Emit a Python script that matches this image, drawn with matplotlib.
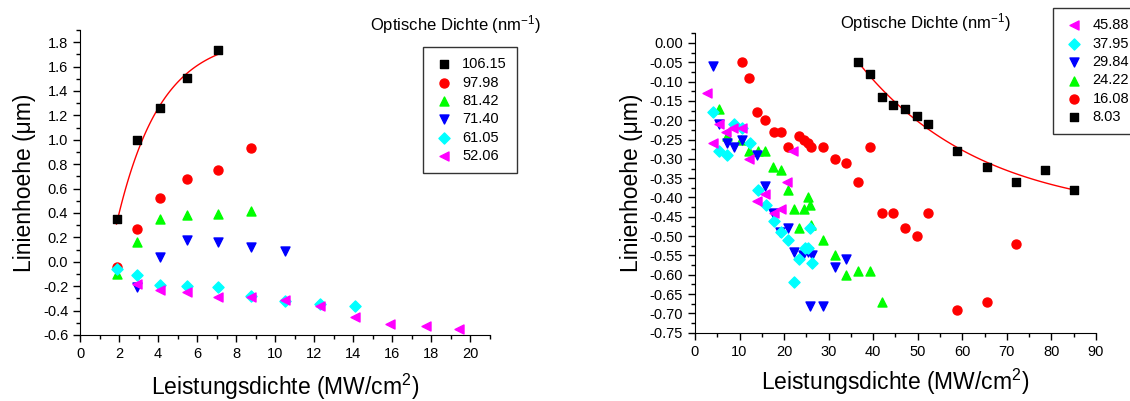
import numpy as np
import matplotlib
matplotlib.use("Agg")
import matplotlib.pyplot as plt
from matplotlib.ticker import MultipleLocator, FormatStrFormatter

plt.rcParams["font.family"] = ["Liberation Sans", "DejaVu Sans"]
plt.rcParams["mathtext.default"] = "regular"

# ---- linkes Diagramm: Optische Dichte 106.15 ... 52.06 ----
x_106 = [1.87, 2.9, 4.1, 5.5, 7.05]
y_106 = [0.35, 1.00, 1.26, 1.51, 1.74]
x_98 = [1.87, 2.9, 4.1, 5.5, 7.05, 8.75]
y_98 = [-0.04, 0.27, 0.52, 0.68, 0.75, 0.93]
x_81 = [1.87, 2.9, 4.1, 5.5, 7.05, 8.75]
y_81 = [-0.10, 0.16, 0.35, 0.38, 0.39, 0.42]
x_71 = [2.9, 4.1, 5.5, 7.05, 8.75, 10.5]
y_71 = [-0.21, 0.04, 0.18, 0.16, 0.12, 0.09]
x_61 = [1.87, 2.9, 4.1, 5.5, 7.05, 8.75, 10.5, 12.3, 14.1]
y_61 = [-0.06, -0.11, -0.19, -0.20, -0.21, -0.28, -0.32, -0.35, -0.36]
x_52 = [2.9, 4.1, 5.5, 7.05, 8.75, 10.5, 12.3, 14.1, 15.9, 17.7, 19.4]
y_52 = [-0.18, -0.23, -0.25, -0.29, -0.29, -0.31, -0.36, -0.45, -0.51, -0.53, -0.55]
# Fit y = a - b*exp(-x/t)
fit_left = (1.85, 1.52 * np.exp(1.9 / 2.23), 2.23)

# ---- rechtes Diagramm: Optische Dichte 45.88 ... 8.03 ----
x_46 = [2.8, 4.0, 5.5, 6.9, 8.6, 10.5, 12.2, 13.9, 15.7, 17.65, 19.3, 20.7, 22.1]
y_46 = [-0.13, -0.26, -0.21, -0.23, -0.22, -0.22, -0.30, -0.41, -0.39, -0.44, -0.43, -0.36, -0.28]
x_38 = [4.1, 5.5, 7.1, 8.75, 10.5, 12.3, 14.06, 15.9, 17.65, 19.3, 20.9, 22.2, 23.4,
        24.7, 25.3, 25.9, 26.2]
y_38 = [-0.18, -0.28, -0.29, -0.21, -0.22, -0.26, -0.38, -0.42, -0.46, -0.49, -0.51, -0.62, -0.56,
        -0.53, -0.53, -0.48, -0.57]
x_30 = [4.1, 5.5, 7.1, 8.75, 10.5, 14.0, 15.8, 17.6, 19.1, 20.8, 22.2, 24.3, 25.4,
        26.2, 25.9, 28.8, 31.4, 34.0]
y_30 = [-0.06, -0.21, -0.26, -0.27, -0.25, -0.29, -0.37, -0.44, -0.49, -0.48, -0.54, -0.55, -0.54,
        -0.55, -0.68, -0.68, -0.58, -0.56]
x_24 = [5.5, 7.1, 10.4, 12.2, 14.1, 15.8, 17.6, 19.3, 20.8, 22.2, 23.4, 24.5, 25.3,
        25.9, 26.1, 28.8, 31.4, 34.0, 36.65, 39.3, 41.9]
y_24 = [-0.17, -0.24, -0.25, -0.28, -0.28, -0.28, -0.32, -0.33, -0.38, -0.43, -0.48, -0.43, -0.40,
        -0.42, -0.47, -0.51, -0.55, -0.60, -0.59, -0.59, -0.67]
x_16 = [10.5, 12.2, 14.0, 15.8, 17.65, 19.3, 20.9, 23.4, 24.5, 25.3, 26.0, 28.7, 31.4,
        34.0, 36.65, 39.3, 41.9, 44.5, 47.1, 49.75, 52.4, 58.9, 65.5, 72.0]
y_16 = [-0.05, -0.09, -0.18, -0.20, -0.23, -0.23, -0.27, -0.24, -0.25, -0.26, -0.27, -0.27, -0.30,
        -0.31, -0.36, -0.27, -0.44, -0.44, -0.48, -0.50, -0.44, -0.69, -0.67, -0.52]
x_8 = [36.65, 39.3, 41.9, 44.5, 47.1, 49.75, 52.4, 58.9, 65.5, 72.0, 78.5, 85.1]
y_8 = [-0.05, -0.08, -0.14, -0.16, -0.17, -0.19, -0.21, -0.28, -0.32, -0.36, -0.33, -0.38]
# Fit y = y0 + A*exp(-x/t)
fit_right = (-0.45, 0.40 * np.exp(36.65 / 27.7), 27.7)

ms = 42
fig = plt.figure(figsize=(11.3, 4.01), dpi=100)


def style_axes(ax):
    ax.spines["top"].set_visible(False)
    ax.spines["right"].set_visible(False)
    ax.tick_params(which="both", direction="out", labelsize=10.5, width=1)
    ax.tick_params(which="major", length=5)
    ax.tick_params(which="minor", length=3)


legend_opts = dict(loc="upper left", bbox_transform=fig.transFigure, borderaxespad=0,
                   fontsize=10.5, frameon=True, fancybox=False, edgecolor="black",
                   labelspacing=0.3, handletextpad=0.5, borderpad=0.7, scatterpoints=1,
                   handlelength=1.5)

# linkes Diagramm
ax1 = fig.add_axes([0.0708, 0.1646, 0.3628, 0.7606])
xf = np.linspace(min(x_106), max(x_106), 100)
ax1.plot(xf, fit_left[0] - fit_left[1] * np.exp(-xf / fit_left[2]), color="red", lw=1)
ax1.scatter(x_106, y_106, marker="s", s=36, color="black", label="106.15", zorder=3)
ax1.scatter(x_98, y_98, marker="o", s=ms, color="red", label="97.98", zorder=3)
ax1.scatter(x_81, y_81, marker="^", s=ms, color="#00FF00", label="81.42", zorder=3)
ax1.scatter(x_71, y_71, marker="v", s=ms, color="blue", label="71.40", zorder=3)
ax1.scatter(x_61, y_61, marker="D", s=32, color="cyan", label="61.05", zorder=3)
ax1.scatter(x_52, y_52, marker="<", s=ms, color="magenta", label="52.06", zorder=3)
ax1.set_xlim(0, 21)
ax1.set_ylim(-0.6, 1.9)
ax1.xaxis.set_major_locator(MultipleLocator(2))
ax1.xaxis.set_minor_locator(MultipleLocator(1))
ax1.yaxis.set_major_locator(MultipleLocator(0.2))
ax1.yaxis.set_minor_locator(MultipleLocator(0.1))
ax1.yaxis.set_major_formatter(FormatStrFormatter("%.1f"))
style_axes(ax1)
ax1.set_xlabel("Leistungsdichte (MW/cm$^2$)", fontsize=16.5, labelpad=8)
ax1.set_ylabel("Linienhoehe (μm)", fontsize=16.5, labelpad=5)
ax1.legend(bbox_to_anchor=(0.374, 0.883), **legend_opts).get_frame().set_linewidth(1)
fig.text(0.327, 0.94, "Optische Dichte (nm$^{-1}$)", fontsize=12, va="center")

# rechtes Diagramm
ax2 = fig.add_axes([0.615, 0.1703, 0.3549, 0.7467])
xf = np.linspace(min(x_8), max(x_8), 100)
ax2.plot(xf, fit_right[0] + fit_right[1] * np.exp(-xf / fit_right[2]), color="red", lw=1)
ax2.scatter(x_8, y_8, marker="s", s=36, color="black", label="8.03", zorder=3)
ax2.scatter(x_16, y_16, marker="o", s=ms, color="red", label="16.08", zorder=3)
ax2.scatter(x_24, y_24, marker="^", s=ms, color="#00FF00", label="24.22", zorder=3)
ax2.scatter(x_30, y_30, marker="v", s=ms, color="blue", label="29.84", zorder=3)
ax2.scatter(x_38, y_38, marker="D", s=32, color="cyan", label="37.95", zorder=3)
ax2.scatter(x_46, y_46, marker="<", s=ms, color="magenta", label="45.88", zorder=3)
ax2.set_xlim(0, 90)
ax2.set_ylim(-0.75, 0.025)
ax2.xaxis.set_major_locator(MultipleLocator(10))
ax2.xaxis.set_minor_locator(MultipleLocator(5))
ax2.yaxis.set_major_locator(MultipleLocator(0.05))
ax2.yaxis.set_minor_locator(MultipleLocator(0.025))
ax2.yaxis.set_major_formatter(FormatStrFormatter("%.2f"))
style_axes(ax2)
ax2.set_xlabel("Leistungsdichte (MW/cm$^2$)", fontsize=16.5, labelpad=6)
ax2.set_ylabel("Linienhoehe (μm)", fontsize=16.5, labelpad=5)
h, l = ax2.get_legend_handles_labels()
ax2.legend(h[::-1], l[::-1], bbox_to_anchor=(0.932, 0.98),
           **legend_opts).get_frame().set_linewidth(1)
fig.text(0.743, 0.945, "Optische Dichte (nm$^{-1}$)", fontsize=12, va="center")

plt.savefig("out.png", dpi=100)
